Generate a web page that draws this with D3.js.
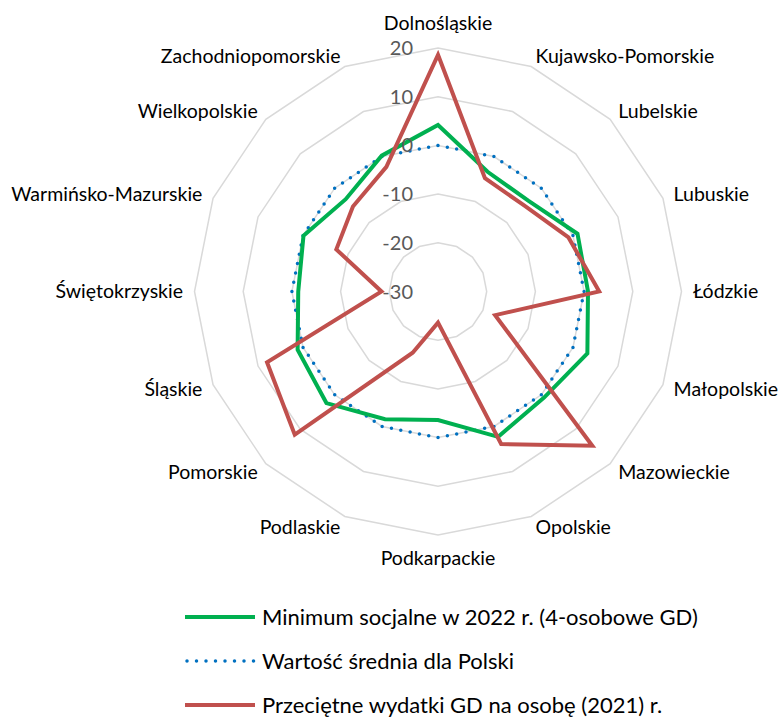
<!DOCTYPE html>
<html>
<head>
<meta charset="utf-8">
<script src="https://cdn.jsdelivr.net/npm/d3@7"></script>
<style>
  html, body { margin: 0; padding: 0; background: #fff; }
  svg { display: block; font-family: Lato, "Open Sans", sans-serif; }
</style>
</head>
<body>
<svg id="chart" width="779" height="718"></svg>
<script>
var categories = ["Dolnośląskie", "Kujawsko-Pomorskie", "Lubelskie", "Lubuskie", "Łódzkie",
  "Małopolskie", "Mazowieckie", "Opolskie", "Podkarpackie", "Podlaskie", "Pomorskie",
  "Śląskie", "Świętokrzyskie", "Warmińsko-Mazurskie", "Wielkopolskie", "Zachodniopomorskie"];

var minimumSocjalne = [4.2, -3.4, -3.7, 1.0, 0.8, 3.2, 0.8, 2.3, -3.6, -1.6, 2.4, 1.2, -1.3, -0.1, -3.2, 0.2];
var sredniaPolska = [0, 0, 0, 0, 0, 0, 0, 0, 0, 0, 0, 0, 0, 0, 0, 0];
var wydatkiGD = [18.6, -4.8, -5.0, -1.0, 3.1, -17.3, 14.8, 3.9, -23.6, -16.4, 11.6, 8.0, -18.4, -7.4, -5.3, -2.3];

var ticks = [-30, -20, -10, 0, 10, 20];

var seriesNames = ["Minimum socjalne w 2022 r. (4-osobowe GD)", "Wartość średnia dla Polski",
  "Przeciętne wydatki GD na osobę (2021) r."];

var cx = 438,
  cy = 291.5,
  outerRadius = 243.5,
  labelRadius = 255,
  svg = d3.select("#chart"),
  n = categories.length,
  r = d3.scaleLinear().domain([-30, 20]).range([0, outerRadius]),
  angle = function(i) { return i * 2 * Math.PI / n; },
  g = svg.append("g").attr("transform", "translate(" + cx + "," + cy + ")");

var series = [
  { name: seriesNames[0], values: minimumSocjalne, color: "#00B050", width: 4, dash: null },
  { name: seriesNames[1], values: sredniaPolska, color: "#0070C0", width: 3.5, dash: "0 9.5" },
  { name: seriesNames[2], values: wydatkiGD, color: "#C0504D", width: 4, dash: null }
];

// grid rings
var ringLine = d3.lineRadial()
  .angle(function(d, i) { return angle(i); })
  .radius(function(d) { return r(d); })
  .curve(d3.curveLinearClosed);

g.selectAll(".ring")
  .data(ticks.slice(1))
  .enter()
  .append("path")
  .attr("class", "ring")
  .attr("d", function(t) { return ringLine(categories.map(function() { return t; })); })
  .attr("fill", "none")
  .attr("stroke", "#D9D9D9")
  .attr("stroke-width", 1.5);

// series
var seriesLine = d3.lineRadial()
  .angle(function(d, i) { return angle(i); })
  .radius(function(d) { return r(d); })
  .curve(d3.curveLinearClosed);

// draw order: average, minimum, expenses
[series[1], series[0], series[2]].forEach(function(s) {
  g.append("path")
    .attr("d", seriesLine(s.values))
    .attr("fill", "none")
    .attr("stroke", s.color)
    .attr("stroke-width", s.width)
    .attr("stroke-linejoin", "miter")
    .attr("stroke-linecap", s.dash ? "round" : "butt")
    .attr("stroke-dasharray", s.dash);
});

// tick labels
g.selectAll(".tick")
  .data(ticks)
  .enter()
  .append("text")
  .attr("class", "tick")
  .attr("x", -25)
  .attr("y", function(t) { return -r(t); })
  .attr("dy", "0.35em")
  .attr("text-anchor", "end")
  .attr("fill", "#595959")
  .attr("font-size", 20)
  .text(function(t) { return t; });

// category labels
g.selectAll(".cat")
  .data(categories)
  .enter()
  .append("text")
  .attr("class", "cat")
  .each(function(d, i) {
    var a = angle(i),
      p = d3.pointRadial(a, labelRadius),
      s = Math.sin(a),
      c = Math.cos(a),
      anchor = Math.abs(s) < 0.01 ? "middle" : (s > 0 ? "start" : "end"),
      extra = Math.abs(s) < 0.01 ? (c > 0 ? -13 : 12) : 0;
    d3.select(this)
      .attr("x", p[0])
      .attr("y", p[1] + extra)
      .attr("dy", "0.35em")
      .attr("text-anchor", anchor);
  })
  .attr("fill", "#000")
  .attr("font-size", 19.5)
  .text(function(d) { return d; });

// legend
var legend = svg.append("g").attr("transform", "translate(185,617)");
series.forEach(function(s, i) {
  var row = legend.append("g").attr("transform", "translate(0," + i * 44 + ")");
  row.append("line")
    .attr("x1", s.dash ? 2 : 0)
    .attr("x2", 70)
    .attr("y1", 0)
    .attr("y2", 0)
    .attr("stroke", s.color)
    .attr("stroke-width", s.width)
    .attr("stroke-linecap", s.dash ? "round" : "butt")
    .attr("stroke-dasharray", s.dash);
  row.append("text")
    .attr("x", 77)
    .attr("y", 0)
    .attr("dy", "0.35em")
    .attr("fill", "#000")
    .attr("font-size", 22)
    .text(s.name);
});
</script>
</body>
</html>
